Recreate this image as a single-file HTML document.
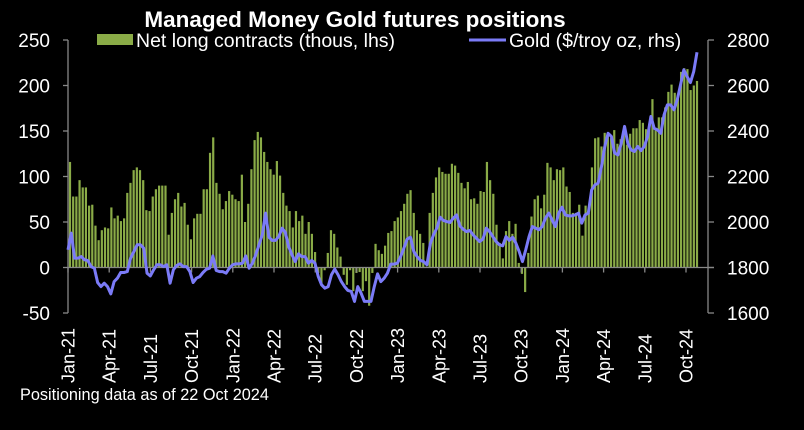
<!DOCTYPE html>
<html><head><meta charset="utf-8"><style>
html,body{margin:0;padding:0;background:#000;}
svg{display:block;font-family:"Liberation Sans",Arial,sans-serif;}
</style></head><body>
<svg id="chart" width="804" height="430" viewBox="0 0 804 430" xmlns="http://www.w3.org/2000/svg">
<rect x="0" y="0" width="804" height="430" fill="#000"/>
<text x="355" y="27" fill="#fff" font-size="22.5" font-weight="bold" text-anchor="middle">Managed Money Gold futures positions</text>
<g>
<rect x="97" y="34" width="36" height="11" fill="#8aab47"/>
<text x="136" y="47" fill="#fff" font-size="19.5">Net long contracts (thous, lhs)</text>
</g>
<g>
<line x1="469" y1="40" x2="506" y2="40" stroke="#7b7bf7" stroke-width="3"/>
<text x="509" y="47" fill="#fff" font-size="19.5">Gold ($/troy oz, rhs)</text>
</g>
<g id="plot"></g>
<text x="20" y="400" fill="#fff" font-size="16.3">Positioning data as of 22 Oct 2024</text>
</svg>
<script>
const netLong = [116,78,78,96,88,88,68,69,46,30,41,44,43,66,54,57,51,54,82,93,107,110,107,96,63,62,78,86,90,90,90,36,60,75,82,67,71,47,31,54,59,59,86,86,126,143,93,81,64,73,84,80,75,73,102,50,70,108,140,149,143,127,116,
108,102,117,101,82,68,62,44,62,51,57,37,50,37,17,-6,-19,-3,16,41,37,22,12,-8,-19,-3,-26,-6,-5,-26,-15,-42,-6,26,19,15,24,38,40,51,55,62,70,81,85,60,41,37,27,1,60,82,99,110,105,103,103,114,112,104,93,87,94,75,76,70,84,83,116,
96,81,47,27,10,40,51,37,48,5,-7,-27,16,56,75,79,65,80,115,110,96,108,107,110,89,83,60,60,69,35,68,60,110,142,143,133,148,145,142,151,136,141,148,135,147,153,153,162,159,152,158,185,153,165,165,176,193,201,192,190,215,219,218,195,200,205];
const gold = [1878,1951,1841,1841,1848,1834,1831,1804,1797,1734,1716,1731,1716,1684,1738,1753,1778,1778,1782,1841,1870,1900,1900,1885,1775,1763,1790,1812,1812,1804,1812,1731,1790,1809,1816,1804,1804,1782,1734,1753,1760,1778,1792,1797,1851,1787,1782,1782,1775,1797,1812,1816,1816,1819,1851,1797,1819,1856,1900,1944,2039,1934,1919,
1919,1936,1973,1954,1892,1856,1826,1860,1848,1848,1819,1831,1819,1760,1724,1709,1716,1768,1793,1768,1738,1716,1699,1695,1651,1716,1687,1651,1651,1651,1716,1772,1738,1753,1775,1815,1815,1819,1848,1885,1925,1933,1870,1848,1831,1826,1812,1904,1944,1973,2021,2007,2002,1998,2017,2031,1983,1968,1958,1963,1944,1929,1914,1925,1973,
1958,1936,1914,1900,1895,1936,1919,1933,1907,1870,1826,1878,1936,1980,1973,1966,1980,2017,2039,2009,1980,2039,2065,2031,2027,2027,2031,2039,1995,2031,2039,2141,2163,2171,2244,2332,2390,2376,2303,2295,2346,2420,2346,2317,2310,2332,2314,2332,2376,2464,2412,2405,2390,2471,2515,2515,2493,2537,2603,2669,2639,2613,2661,2746];
const leftTicks = [250,200,150,100,50,0,-50];
const rightTicks = [2800,2600,2400,2200,2000,1800,1600];
const quarterLabels = ["Jan-21","Apr-21","Jul-21","Oct-21","Jan-22","Apr-22","Jul-22","Oct-22","Jan-23","Apr-23","Jul-23","Oct-23","Jan-24","Apr-24","Jul-24","Oct-24"];

const NS="http://www.w3.org/2000/svg";
const plot=document.getElementById('plot');
function mk(tag,attrs,parent){const e=document.createElementNS(NS,tag);for(const k in attrs)e.setAttribute(k,attrs[k]);(parent||plot).appendChild(e);return e;}
const yTop=40,yBot=313;
function yL(v){return yTop+(250-v)/300*(yBot-yTop);}
function yR(v){return yTop+(2800-v)/1200*(yBot-yTop);}
const x0=70,x1=697;
function xBar(i){return x0+i*(x1-x0)/(netLong.length-1);}
function xGold(i){return 68+i*(x1-68)/(gold.length-1);}
function xQ(i){return 68+i*41.2;}

const bars=mk('g',{});


netLong.forEach((v,i)=>{
  const y=Math.min(yL(v),yL(0)),h=Math.abs(yL(v)-yL(0));
  const r=mk('rect',{x:(xBar(i)-1.1).toFixed(2),y:y.toFixed(2),width:2.2,height:Math.max(h,0.5).toFixed(2),fill:'#8aab47'},bars);
  
  
});
const ax=mk('g',{stroke:'#888','stroke-width':1.3,fill:'none'});


mk('line',{x1:68,y1:yTop,x2:68,y2:yBot},ax);
mk('line',{x1:708,y1:yTop,x2:708,y2:yBot},ax);
mk('line',{x1:68,y1:yL(0),x2:714,y2:yL(0)},ax);
leftTicks.forEach(v=>{
  mk('line',{x1:63,y1:yL(v),x2:68,y2:yL(v)},ax);
  const t=mk('text',{x:50,y:yL(v)+7,fill:'#fff',stroke:'none','font-size':19,'text-anchor':'end'});
  
  
  t.textContent=v;
});
rightTicks.forEach(v=>{
  mk('line',{x1:708,y1:yR(v),x2:714,y2:yR(v)},ax);
  const t=mk('text',{x:727,y:yR(v)+7,fill:'#fff',stroke:'none','font-size':19});
  
  
  t.textContent=v;
});
quarterLabels.forEach((l,i)=>{
  const x=xQ(i);
  mk('line',{x1:x,y1:yL(0),x2:x,y2:yL(0)+5},ax);
  const t=mk('text',{x:0,y:0,fill:'#fff',stroke:'none','font-size':18,'text-anchor':'start',transform:`translate(${x+6.5},383) rotate(-90)`});
  
  
  t.textContent=l;
});
const pts=gold.map((v,i)=>xGold(i).toFixed(2)+','+yR(v).toFixed(2)).join(' ');
const gl=mk('polyline',{points:pts,fill:'none',stroke:'#7b7bf7','stroke-width':3,'stroke-linejoin':'round'});


</script>
</body></html>
